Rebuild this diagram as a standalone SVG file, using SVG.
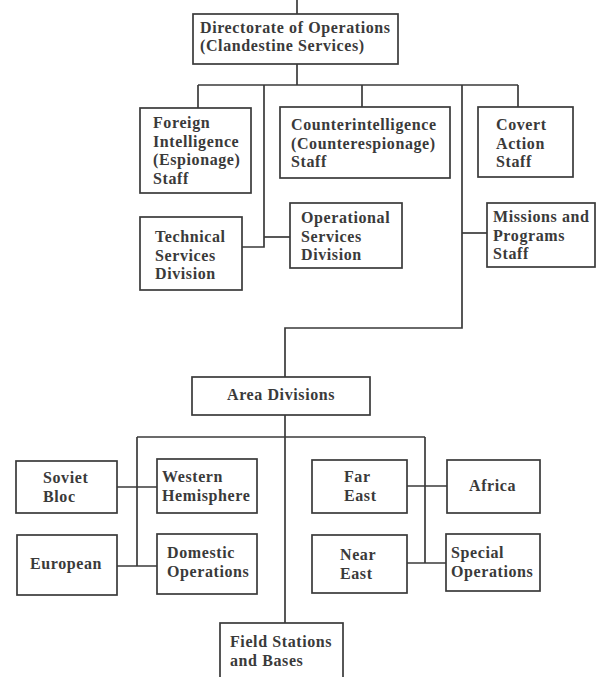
<svg xmlns="http://www.w3.org/2000/svg" width="597" height="677" viewBox="0 0 597 677">
<style>
.box{fill:#ffffff;stroke:#3a3a3a;stroke-width:1.7}
.lbl{font-family:"Liberation Serif","Times New Roman",serif;font-weight:bold;font-size:16px;letter-spacing:0.6px;fill:#3a3a3a}
.con{fill:none;stroke:#3a3a3a;stroke-width:1.7}
</style>
<rect width="597" height="677" fill="#ffffff"/>
<g id="connectors" class="con">
<path d="M297,0 V14"/>
<path d="M297,64 V85"/>
<path d="M198,85 H518"/>
<path d="M198,85 V108"/>
<path d="M362,85 V107"/>
<path d="M518,85 V107"/>
<path d="M264,85 V247 H242"/>
<path d="M264,237 H290"/>
<path d="M462,85 V328 H285 V377"/>
<path d="M462,233 H487"/>
<path d="M285,415 V623"/>
<path d="M137,437 H425"/>
<path d="M137,437 V566"/>
<path d="M117,487 H157"/>
<path d="M117,566 H157"/>
<path d="M425,437 V563"/>
<path d="M407,486 H447"/>
<path d="M407,563 H446"/>
</g>
<g id="directorate"><rect class="box" x="193" y="14" width="205" height="50"/><text class="lbl" x="200" y="33">Directorate of Operations</text><text class="lbl" x="200" y="51">(Clandestine Services)</text></g>
<g id="foreign"><rect class="box" x="140" y="108" width="111" height="85"/><text class="lbl" x="153" y="128">Foreign</text><text class="lbl" x="153" y="146.5">Intelligence</text><text class="lbl" x="153" y="165">(Espionage)</text><text class="lbl" x="153" y="183.5">Staff</text></g>
<g id="counter"><rect class="box" x="280" y="107" width="170" height="71"/><text class="lbl" x="291" y="130">Counterintelligence</text><text class="lbl" x="291" y="148.5">(Counterespionage)</text><text class="lbl" x="291" y="167">Staff</text></g>
<g id="covert"><rect class="box" x="478" y="107" width="95" height="70"/><text class="lbl" x="496" y="130">Covert</text><text class="lbl" x="496" y="148.5">Action</text><text class="lbl" x="496" y="167">Staff</text></g>
<g id="technical"><rect class="box" x="140" y="217" width="102" height="73"/><text class="lbl" x="155" y="242">Technical</text><text class="lbl" x="155" y="260.5">Services</text><text class="lbl" x="155" y="279">Division</text></g>
<g id="operational"><rect class="box" x="290" y="203" width="112" height="65"/><text class="lbl" x="301" y="223">Operational</text><text class="lbl" x="301" y="241.5">Services</text><text class="lbl" x="301" y="260">Division</text></g>
<g id="missions"><rect class="box" x="487" y="203" width="108" height="64"/><text class="lbl" x="493" y="222">Missions and</text><text class="lbl" x="493" y="240.5">Programs</text><text class="lbl" x="493" y="259">Staff</text></g>
<g id="area"><rect class="box" x="192" y="377" width="178" height="38"/><text class="lbl" x="227" y="400">Area Divisions</text></g>
<g id="soviet"><rect class="box" x="16" y="461" width="101" height="52"/><text class="lbl" x="43" y="483">Soviet</text><text class="lbl" x="43" y="502">Bloc</text></g>
<g id="western"><rect class="box" x="157" y="459" width="100" height="54"/><text class="lbl" x="162" y="482">Western</text><text class="lbl" x="162" y="500.5">Hemisphere</text></g>
<g id="fareast"><rect class="box" x="312" y="460" width="95" height="53"/><text class="lbl" x="344" y="482">Far</text><text class="lbl" x="344" y="500.5">East</text></g>
<g id="africa"><rect class="box" x="447" y="460" width="93" height="53"/><text class="lbl" x="469" y="491">Africa</text></g>
<g id="european"><rect class="box" x="17" y="535" width="100" height="60"/><text class="lbl" x="30" y="569">European</text></g>
<g id="domestic"><rect class="box" x="157" y="534" width="100" height="60"/><text class="lbl" x="167" y="558">Domestic</text><text class="lbl" x="167" y="577">Operations</text></g>
<g id="neareast"><rect class="box" x="312" y="535" width="95" height="58"/><text class="lbl" x="340" y="560">Near</text><text class="lbl" x="340" y="578.5">East</text></g>
<g id="special"><rect class="box" x="446" y="534" width="94" height="57"/><text class="lbl" x="451" y="558">Special</text><text class="lbl" x="451" y="576.5">Operations</text></g>
<g id="field"><rect class="box" x="220" y="623" width="123" height="70"/><text class="lbl" x="230" y="647">Field Stations</text><text class="lbl" x="230" y="666">and Bases</text></g>
</svg>
